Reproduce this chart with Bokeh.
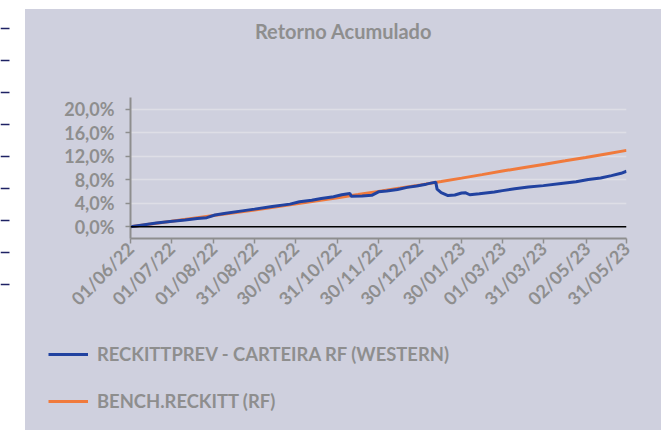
import pandas as pd
from math import pi
from bokeh.plotting import figure
from bokeh.models import (FixedTicker, CustomJSTickFormatter, Span, Legend,
                          LegendItem, Range1d, ColumnDataSource, Spacer)
from bokeh.core.properties import value
from bokeh.layouts import row, column
from bokeh.embed import file_html
from bokeh.resources import INLINE

# ---------------- data ----------------
title_text = "Retorno Acumulado"
series_names = ["RECKITTPREV - CARTEIRA RF (WESTERN)", "BENCH.RECKITT (RF)"]

carteira_dates = [
    "2022-06-01", "2022-06-10", "2022-06-20", "2022-06-30", "2022-07-11", "2022-07-20",
    "2022-07-27", "2022-08-02", "2022-08-10", "2022-08-22", "2022-08-31", "2022-09-13",
    "2022-09-26", "2022-10-03", "2022-10-12", "2022-10-19", "2022-10-28", "2022-11-03",
    "2022-11-09", "2022-11-10", "2022-11-18", "2022-11-25", "2022-11-30", "2022-12-06",
    "2022-12-14", "2022-12-21", "2022-12-28", "2023-01-04", "2023-01-11", "2023-01-12",
    "2023-01-15", "2023-01-20", "2023-01-25", "2023-01-30", "2023-02-02", "2023-02-05",
    "2023-02-12", "2023-02-23", "2023-03-01", "2023-03-10", "2023-03-20", "2023-03-31",
    "2023-04-13", "2023-04-24", "2023-05-03", "2023-05-12", "2023-05-20", "2023-05-27",
    "2023-05-31",
]
carteira_values = [
    0.00, 0.30, 0.62, 0.90, 1.15, 1.40,
    1.55, 2.00, 2.30, 2.70, 3.00, 3.45,
    3.85, 4.25, 4.50, 4.80, 5.10, 5.45,
    5.65, 5.20, 5.25, 5.35, 5.95, 6.10,
    6.35, 6.70, 6.95, 7.25, 7.60, 6.40,
    5.80, 5.30, 5.40, 5.75, 5.78, 5.45,
    5.60, 5.90, 6.15, 6.45, 6.75, 7.00,
    7.35, 7.65, 8.05, 8.30, 8.70, 9.10,
    9.45,
]

bench_dates = [
    "2022-06-01", "2022-06-16", "2022-07-01", "2022-07-16", "2022-08-01", "2022-08-16",
    "2022-08-31", "2022-09-15", "2022-10-01", "2022-10-16", "2022-10-31", "2022-11-15",
    "2022-11-30", "2022-12-16", "2022-12-31", "2023-01-15", "2023-01-30", "2023-02-14",
    "2023-03-01", "2023-03-16", "2023-04-01", "2023-04-16", "2023-05-01", "2023-05-16",
    "2023-05-31",
]
bench_values = [
    0.00, 0.45, 0.92, 1.40, 1.90, 2.38,
    2.85, 3.35, 3.90, 4.42, 4.95, 5.48,
    6.02, 6.58, 7.13, 7.70, 8.28, 8.87,
    9.48, 10.05, 10.65, 11.22, 11.80, 12.40,
    13.00,
]

x_tick_dates = ["2022-06-01", "2022-07-01", "2022-08-01", "2022-08-31", "2022-09-30",
                "2022-10-31", "2022-11-30", "2022-12-30", "2023-01-30", "2023-03-01",
                "2023-03-31", "2023-05-02", "2023-05-31"]
x_tick_labels = ["01/06/22", "01/07/22", "01/08/22", "31/08/22", "30/09/22",
                 "31/10/22", "30/11/22", "30/12/22", "30/01/23", "01/03/23",
                 "31/03/23", "02/05/23", "31/05/23"]
y_ticks = [0, 4, 8, 12, 16, 20]
y_tick_labels = ["0,0%", "4,0%", "8,0%", "12,0%", "16,0%", "20,0%"]

# decorative dashes at the page's left edge (rows, in pixels from top)
dash_rows = [28, 60, 92, 124, 156, 188, 220, 252, 284]

# ---------------- style ----------------
BG = "#CFD0DE"
GRAY = "#8E8E8E"
BLUE = "#2142A0"
ORANGE = "#F07A3C"
NAVY = "#1E2264"
FONT = "Lato"
W_MAIN = 636
TOP = 9                      # white band above the chart area
H_TITLE, H_MAIN, H_LEG = 55 - TOP, 265, 110


def bare(fig, bg):
    fig.background_fill_color = bg
    fig.border_fill_color = bg
    fig.outline_line_color = None
    fig.xaxis.visible = False
    fig.yaxis.visible = False
    fig.xgrid.visible = False
    fig.ygrid.visible = False
    return fig


# ---- left white strip with dashes ----
left = figure(width=25, height=430, output_backend="svg", toolbar_location=None,
              min_border=0, x_range=(0, 25), y_range=(430, 0), frame_align=False)
bare(left, "white")
left.segment(x0=[0] * len(dash_rows), x1=[9] * len(dash_rows), y0=dash_rows, y1=dash_rows,
             line_color=NAVY, line_width=1.5)

# ---- title strip ----
tfig = figure(width=W_MAIN, height=H_TITLE, output_backend="svg", toolbar_location=None,
              min_border=0, x_range=(0, W_MAIN), y_range=(H_TITLE, 0), frame_align=False)
bare(tfig, BG)
tfig.text(x=[343 - 25], y=[30 - TOP], text=[title_text], text_align="center",
          text_baseline="middle", text_font=value(FONT), text_font_style="bold",
          text_font_size="20px", text_color=GRAY)

# ---- main chart ----
src_c = ColumnDataSource(dict(x=pd.to_datetime(carteira_dates), y=carteira_values))
src_b = ColumnDataSource(dict(x=pd.to_datetime(bench_dates), y=bench_values))

p = figure(width=W_MAIN, height=H_MAIN, x_axis_type="datetime",
           output_backend="svg", toolbar_location=None, frame_align=False,
           min_border_left=105, min_border_right=35,
           min_border_top=97 - 55, min_border_bottom=H_MAIN - (241 - 55))
p.x_range = Range1d(pd.Timestamp(x_tick_dates[0]), pd.Timestamp(x_tick_dates[-1]))
p.y_range = Range1d(-2, 22)

p.background_fill_color = BG
p.border_fill_color = BG
p.outline_line_color = None

p.xgrid.visible = False
p.ygrid.ticker = FixedTicker(ticks=y_ticks[1:])
p.ygrid.grid_line_color = "#DEDEE6"
p.ygrid.grid_line_width = 1.5

p.add_layout(Span(location=0, dimension="width", line_color="black", line_width=1.5))

rb = p.line("x", "y", source=src_b, line_color=ORANGE, line_width=3)
rc = p.line("x", "y", source=src_c, line_color=BLUE, line_width=3)

tick_ms = [int(pd.Timestamp(d).value // 10**6) for d in x_tick_dates]
p.xaxis.ticker = FixedTicker(ticks=tick_ms)
p.xaxis.formatter = CustomJSTickFormatter(args=dict(tvals=tick_ms, tlabels=x_tick_labels), code="""
    let best = 0, bd = Infinity;
    for (let i = 0; i < tvals.length; i++) {
        const dd = Math.abs(tvals[i] - tick);
        if (dd < bd) { bd = dd; best = i; }
    }
    return tlabels[best];
""")
p.xaxis.major_label_orientation = pi / 4
p.yaxis.ticker = FixedTicker(ticks=y_ticks)
p.yaxis.major_label_overrides = {t: l for t, l in zip(y_ticks, y_tick_labels)}

for ax in (p.xaxis, p.yaxis):
    ax.axis_line_color = GRAY
    ax.axis_line_width = 2
    ax.major_tick_line_color = GRAY
    ax.major_tick_line_width = 1.5
    ax.major_tick_out = 5
    ax.major_tick_in = 0
    ax.minor_tick_line_color = None
    ax.major_label_text_color = GRAY
    ax.major_label_text_font = FONT
    ax.major_label_text_font_style = "bold"
    ax.major_label_text_font_size = "18px"
p.yaxis.major_label_standoff = 11
p.xaxis.major_label_standoff = 2

# ---- legend strip ----
lfig = figure(width=W_MAIN, height=H_LEG, output_backend="svg", toolbar_location=None,
              min_border=0, x_range=(0, 1), y_range=(0, 1), frame_align=False)
bare(lfig, BG)
lc = lfig.line(x=[-10, -9], y=[-10, -9], line_color=BLUE, line_width=3)
lb = lfig.line(x=[-10, -9], y=[-10, -9], line_color=ORANGE, line_width=3)
legend = Legend(items=[LegendItem(label=series_names[0], renderers=[lc]),
                       LegendItem(label=series_names[1], renderers=[lb])],
                location=(23, 18), orientation="vertical",
                background_fill_alpha=0, border_line_alpha=0,
                padding=0, margin=0, spacing=25,
                glyph_width=40, glyph_height=20, label_height=20, label_standoff=9,
                label_text_font=FONT, label_text_font_style="bold",
                label_text_font_size="18.4px", label_text_color=GRAY)
lfig.add_layout(legend)

chart = column(tfig, p, lfig, spacing=0, styles={"background-color": BG})
right = column(Spacer(width=W_MAIN, height=TOP), chart, spacing=0,
               styles={"background-color": "white"})
layout = row(left, right, spacing=0)
open("out.html", "w").write(file_html(layout, INLINE))
